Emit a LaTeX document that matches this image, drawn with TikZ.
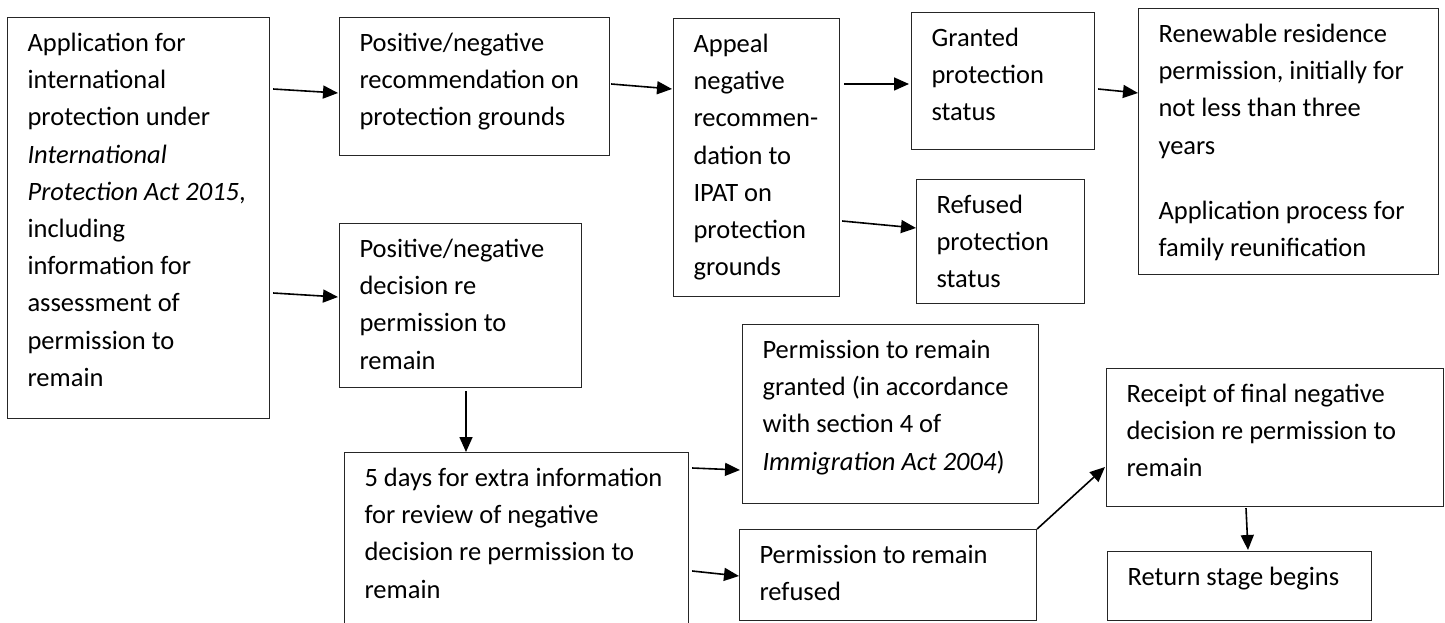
\documentclass[tikz,border=0pt]{standalone}
\usepackage{fontspec}
\setmainfont{Carlito}
\usetikzlibrary{arrows.meta,calc}
\tikzstyle{stage}=[draw=black!85,line width=1.1pt,anchor=north west,align=flush left,
  inner xsep=20pt,inner ysep=9pt,text height=25pt,font={\fontsize{26.5}{37.2}\selectfont}]
\tikzstyle{flow}=[-{Triangle[length=15pt,width=13pt]},line width=1.6pt]

\begin{document}
\begin{tikzpicture}[x=1pt,y=-1pt]
  \useasboundingbox (0,0) rectangle (1445,623);

  \node (app) [stage,text width=222pt,text depth=358pt] at (7,17)
    {Application for\\international\\protection under\\\textit{International}\\
     \textit{Protection Act 2015},\\including\\information for\\assessment of\\permission to\\remain};
  \node (rec) [stage,text width=230pt,text depth=95pt] at (339,17)
    {Positive/negative\\recommendation on\\protection grounds};
  \node (dec) [stage,text width=202pt,text depth=121pt] at (339,223)
    {Positive/negative\\decision re\\permission to\\remain};
  \node (extra) [stage,text width=304pt,text depth=147pt] at (344,452)
    {5 days for extra information\\for review of negative\\decision re permission to\\remain};
  \node (appeal) [stage,text width=126pt,text depth=235pt] at (673,18)
    {Appeal\\negative\\recommen-\\dation to\\IPAT on\\protection\\grounds};
  \node (granted) [stage,text width=143pt,text depth=94pt] at (911,12)
    {Granted\\protection\\status};
  \node (refused) [stage,text width=128pt,text depth=81pt] at (916,179)
    {Refused\\protection\\status};
  \node (renew) [stage,text width=260pt,text depth=223pt] at (1138,8)
    {Renewable residence\\permission, initially for\\not less than three\\years\\[28pt]
     Application process for\\family reunification};
  \node (permok) [stage,text width=256pt,text depth=136pt] at (742,324)
    {Permission to remain\\granted (in accordance\\with section 4 of\\\textit{Immigration Act 2004})};
  \node (permno) [stage,text width=257pt,text depth=48pt] at (739,529)
    {Permission to remain\\refused};
  \node (receipt) [stage,text width=297pt,text depth=95pt] at (1106,368)
    {Receipt of final negative\\decision re permission to\\remain};
  \node (return) [stage,text width=224pt,text depth=26pt] at (1107,551)
    {Return stage begins};

  % protection route
  \draw[flow] ($(app.north east)+(3,72)$) -- ($(rec.north west)+(-1,76)$);
  \draw[flow] ($(rec.north east)+(1,67)$) -- ($(appeal.north west)+(-1,71)$);
  \draw[flow] ($(appeal.north east)+(4,66)$) -- ($(granted.north west)+(-2,72)$);
  \draw[flow] ($(appeal.north east)+(2,203)$) -- ($(refused.north west)+(0,49)$);
  \draw[flow] ($(granted.north east)+(3,77)$) -- ($(renew.north west)+(0,85)$);

  % permission to remain route
  \draw[flow] ($(app.north east)+(3,276)$) -- ($(dec.north west)+(-1,74)$);
  \draw[flow] ($(dec.south west)+(127,3)$) -- ($(extra.north west)+(122,0)$);
  \draw[flow] ($(extra.north east)+(3,16)$) -- ($(permok.north west)+(-2,146)$);
  \draw[flow] ($(extra.north east)+(3,119)$) -- ($(permno.north west)+(0,47)$);
  \draw[flow] (permno.north east) -- ($(receipt.north west)+(-1,99)$);
  \draw[flow] ($(receipt.south west)+(140,1)$) -- ($(return.north west)+(141,-1)$);
\end{tikzpicture}
\end{document}
